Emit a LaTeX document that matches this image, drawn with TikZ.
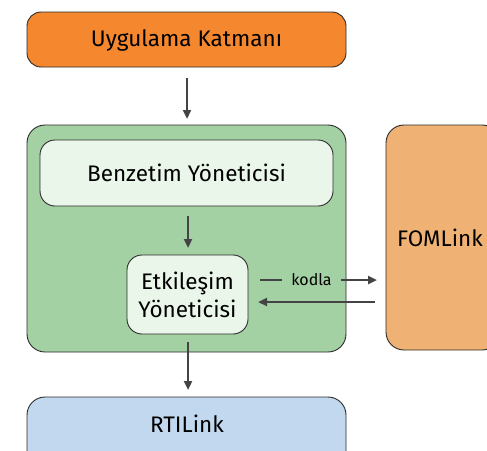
\documentclass[tikz,border=0pt]{standalone}
\usepackage{fontspec}
\setmainfont{Fira Sans}
\usetikzlibrary{arrows.meta}
\definecolor{appor}{HTML}{F5882F}
\definecolor{simgreen}{HTML}{A3D1A3}
\definecolor{paleg}{HTML}{EAF6EA}
\definecolor{fomor}{HTML}{EFB274}
\definecolor{rtiblue}{HTML}{C2D8EE}
\definecolor{edge}{HTML}{2B2B2B}
\definecolor{arr}{HTML}{444444}
\tikzset{
  box/.style={draw=edge, line width=0.9pt, rounded corners=14pt},
  lbl/.style={font=\fontsize{22.5}{28}\selectfont, text=black, align=center},
  flow/.style={draw=arr, line width=2.6pt, -{Triangle[length=9pt,width=8pt]}}
}
\begin{document}
\begin{tikzpicture}[x=1pt,y=-1pt]
\useasboundingbox (0,0) rectangle (487,450);
\clip (0,0) rectangle (487,450);
% outer layers
\draw[box, fill=appor] (27,12) rectangle (346,67);
\node[lbl] (app) at (186.5,40) {Uygulama Katmanı};
\draw[box, fill=simgreen, rounded corners=18pt] (27,125) rectangle (346,352);
\draw[box, fill=fomor, rounded corners=18pt] (386,125) rectangle (500,350);
\node[lbl] (fom) at (440,238) {FOMLink};
\draw[box, fill=rtiblue, rounded corners=18pt] (27,397) rectangle (346,470);
\node[lbl] (rti) at (187,424) {RTILink};
% inner managers
\draw[box, fill=paleg, rounded corners=15pt] (40,140) rectangle (333,206);
\node[lbl] (ben) at (186.5,173) {Benzetim Yöneticisi};
\draw[box, fill=paleg, rounded corners=15pt] (127,255) rectangle (248,334);
\node[lbl] (etk) at (187.5,294.5) {Etkileşim\\Yöneticisi};
% connectors
\coordinate (appS) at (187,78);
\coordinate (simN) at (187,119);
\coordinate (benS) at (188,216);
\coordinate (etkN) at (188,248);
\coordinate (simS) at (188,342);
\coordinate (rtiN) at (188,390);
\draw[flow] (appS) -- (simN);
\draw[flow] (benS) -- (etkN);
\draw[flow] (simS) -- (rtiN);
\coordinate (kA) at (260,280);
\coordinate (kB) at (377,280);
\coordinate (rA) at (375,302);
\coordinate (rB) at (258,302);
\draw[flow] (kA) -- node[pos=0.44, fill=simgreen, inner xsep=9pt, inner ysep=2pt, font=\fontsize{16}{18}\selectfont] (kod) {kodla} (kB);
\draw[flow] (rA) -- (rB);
\end{tikzpicture}
\end{document}
